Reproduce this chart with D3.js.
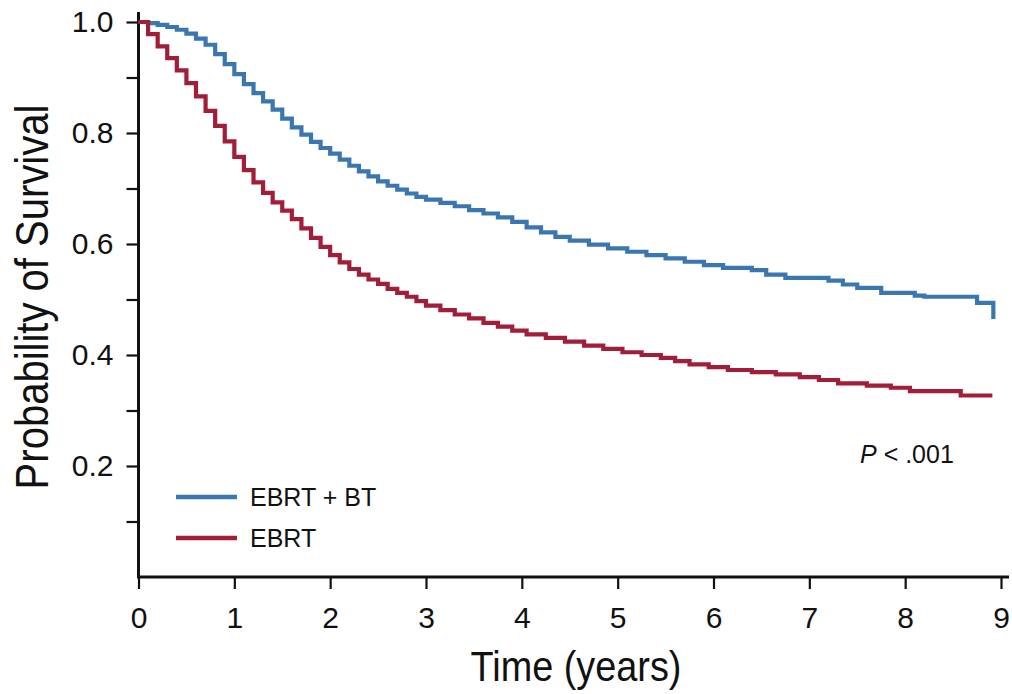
<!DOCTYPE html>
<html>
<head>
<meta charset="utf-8">
<script src="https://cdn.jsdelivr.net/npm/d3@7"></script>
<style>
  body { margin: 0; background: #fff; }
  .tick text { font-family: "Liberation Sans", Arial, sans-serif; font-size: 30px; fill: #111; }
  .axisTitle { font-family: "Liberation Sans", Arial, sans-serif; fill: #111; }
  .legendText { font-family: "Liberation Sans", Arial, sans-serif; font-size: 25px; fill: #111; }
</style>
</head>
<body>
<div id="chart"></div>
<script>
// Kaplan-Meier estimates (time in years, survival probability)
const ebrtBtTime = [0, 0.1, 0.2, 0.3, 0.4, 0.5, 0.6, 0.7, 0.8, 0.9, 1.0, 1.1, 1.2, 1.3, 1.4, 1.5, 1.6, 1.7, 1.8, 1.9,
  2.0, 2.1, 2.2, 2.3, 2.4, 2.5, 2.6, 2.7, 2.8, 2.9, 3.0, 3.15, 3.3, 3.45, 3.6, 3.75, 3.9, 4.05, 4.2, 4.35,
  4.5, 4.7, 4.9, 5.1, 5.3, 5.5, 5.7, 5.9, 6.1, 6.4, 6.55, 6.75, 7.2, 7.35, 7.5, 7.75, 8.1, 8.2, 8.75, 8.92];
const ebrtBtSurv = [1.000, 0.998, 0.995, 0.991, 0.986, 0.979, 0.970, 0.959, 0.942, 0.924, 0.906, 0.888, 0.872, 0.857, 0.842, 0.826, 0.810, 0.797, 0.784, 0.773,
  0.763, 0.752, 0.741, 0.731, 0.722, 0.713, 0.705, 0.698, 0.691, 0.685, 0.680, 0.674, 0.668, 0.661, 0.655, 0.648, 0.640, 0.630, 0.621, 0.613,
  0.606, 0.599, 0.592, 0.586, 0.580, 0.574, 0.568, 0.562, 0.557, 0.553, 0.545, 0.539, 0.534, 0.527, 0.521, 0.512, 0.507, 0.505, 0.494, 0.465];

const ebrtTime = [0, 0.1, 0.2, 0.3, 0.4, 0.5, 0.6, 0.7, 0.8, 0.9, 1.0, 1.1, 1.2, 1.3, 1.4, 1.5, 1.6, 1.7, 1.8, 1.9,
  2.0, 2.1, 2.2, 2.3, 2.4, 2.5, 2.6, 2.7, 2.8, 2.9, 3.0, 3.15, 3.3, 3.45, 3.6, 3.75, 3.9, 4.05, 4.25, 4.45,
  4.65, 4.85, 5.05, 5.25, 5.45, 5.6, 5.75, 5.95, 6.15, 6.4, 6.65, 6.9, 7.1, 7.3, 7.6, 7.85, 8.05, 8.58, 8.91];
const ebrtSurv = [1.000, 0.978, 0.956, 0.935, 0.913, 0.890, 0.866, 0.840, 0.813, 0.785, 0.757, 0.733, 0.711, 0.692, 0.675, 0.660, 0.645, 0.628, 0.611, 0.595,
  0.580, 0.567, 0.555, 0.545, 0.536, 0.528, 0.519, 0.512, 0.505, 0.497, 0.489, 0.481, 0.473, 0.466, 0.458, 0.451, 0.444, 0.437, 0.431, 0.424,
  0.417, 0.411, 0.405, 0.400, 0.395, 0.389, 0.383, 0.378, 0.373, 0.369, 0.365, 0.360, 0.355, 0.349, 0.345, 0.341, 0.335, 0.327, 0.327];

const seriesNames = ["EBRT + BT", "EBRT"];
const seriesColors = ["#3a77b0", "#a11d38"];
const xTicks = [0, 1, 2, 3, 4, 5, 6, 7, 8, 9];
const yMajorTicks = [0.2, 0.4, 0.6, 0.8, 1.0];
const yMinorTicks = [0.1, 0.3, 0.5, 0.7, 0.9];
const pValueText = ".001";

const svgWidth = 1012;
const svgHeight = 694;

const svg = d3.select("#chart")
  .append("svg")
  .attr("width", svgWidth)
  .attr("height", svgHeight);

// scales in page coordinates
const x = d3.scaleLinear().domain([0, 9]).range([138.5, 1001]);
const y = d3.scaleLinear().domain([0, 1]).range([577, 22]);

// x axis
const xAxis = svg.append("g")
  .attr("transform", `translate(0, ${y(0)})`)
  .call(d3.axisBottom(x).tickValues(xTicks).tickSize(12).tickPadding(18).tickFormat(d3.format("d")));
xAxis.select(".domain").remove();
xAxis.selectAll(".tick line").attr("stroke", "#111").attr("stroke-width", 2.2);

// y axis, labelled ticks + unlabelled minor ticks
const yAxis = svg.append("g")
  .attr("transform", `translate(${x(0)}, 0)`)
  .call(d3.axisLeft(y).tickValues(yMajorTicks).tickSize(12).tickPadding(13).tickFormat(d3.format(".1f")));
yAxis.select(".domain").remove();
yAxis.selectAll(".tick line").attr("stroke", "#111").attr("stroke-width", 2.2);

const yMinor = svg.append("g")
  .attr("transform", `translate(${x(0)}, 0)`)
  .call(d3.axisLeft(y).tickValues(yMinorTicks).tickSize(12).tickFormat(""));
yMinor.select(".domain").remove();
yMinor.selectAll(".tick line").attr("stroke", "#111").attr("stroke-width", 2.2);

// axis lines drawn by hand so they can run past the last tick
svg.append("line")
  .attr("x1", x(0)).attr("x2", x(9) + 8)
  .attr("y1", y(0)).attr("y2", y(0))
  .attr("stroke", "#111").attr("stroke-width", 3);
svg.append("line")
  .attr("x1", x(0)).attr("x2", x(0))
  .attr("y1", y(0) + 1.5).attr("y2", y(1.018))
  .attr("stroke", "#111").attr("stroke-width", 3);

// survival curves
const line = d3.line()
  .x(d => x(d[0]))
  .y(d => y(d[1]))
  .curve(d3.curveStepAfter);

const curves = [
  d3.zip(ebrtBtTime, ebrtBtSurv),
  d3.zip(ebrtTime, ebrtSurv)
];

svg.selectAll(".km")
  .data(curves)
  .enter()
  .append("path")
  .attr("class", "km")
  .attr("d", line)
  .attr("fill", "none")
  .attr("stroke", (d, i) => seriesColors[i])
  .attr("stroke-width", 4.2)
  .attr("stroke-linejoin", "miter");

// legend
const legend = svg.selectAll(".legend")
  .data(seriesNames)
  .enter()
  .append("g")
  .attr("class", "legend")
  .attr("transform", (d, i) => `translate(176, ${497 + i * 41})`);

legend.append("line")
  .attr("x1", 0).attr("x2", 61)
  .attr("stroke", (d, i) => seriesColors[i])
  .attr("stroke-width", 4.5);

legend.append("text")
  .attr("class", "legendText")
  .attr("x", 74)
  .attr("dy", "0.36em")
  .text(d => d);

// P value
const pText = svg.append("text")
  .attr("class", "legendText")
  .attr("x", 860)
  .attr("y", 463);
pText.append("tspan").attr("font-style", "italic").text("P");
pText.append("tspan").text(" < " + pValueText);

// axis titles (condensed look via horizontal scaling)
svg.append("text")
  .attr("class", "axisTitle")
  .attr("transform", "translate(576, 681) scale(0.88, 1)")
  .attr("text-anchor", "middle")
  .attr("font-size", "43px")
  .text("Time (years)");

svg.append("text")
  .attr("class", "axisTitle")
  .attr("transform", "translate(48, 297) rotate(-90) scale(0.87, 1)")
  .attr("text-anchor", "middle")
  .attr("font-size", "46px")
  .text("Probability of Survival");
</script>
</body>
</html>
